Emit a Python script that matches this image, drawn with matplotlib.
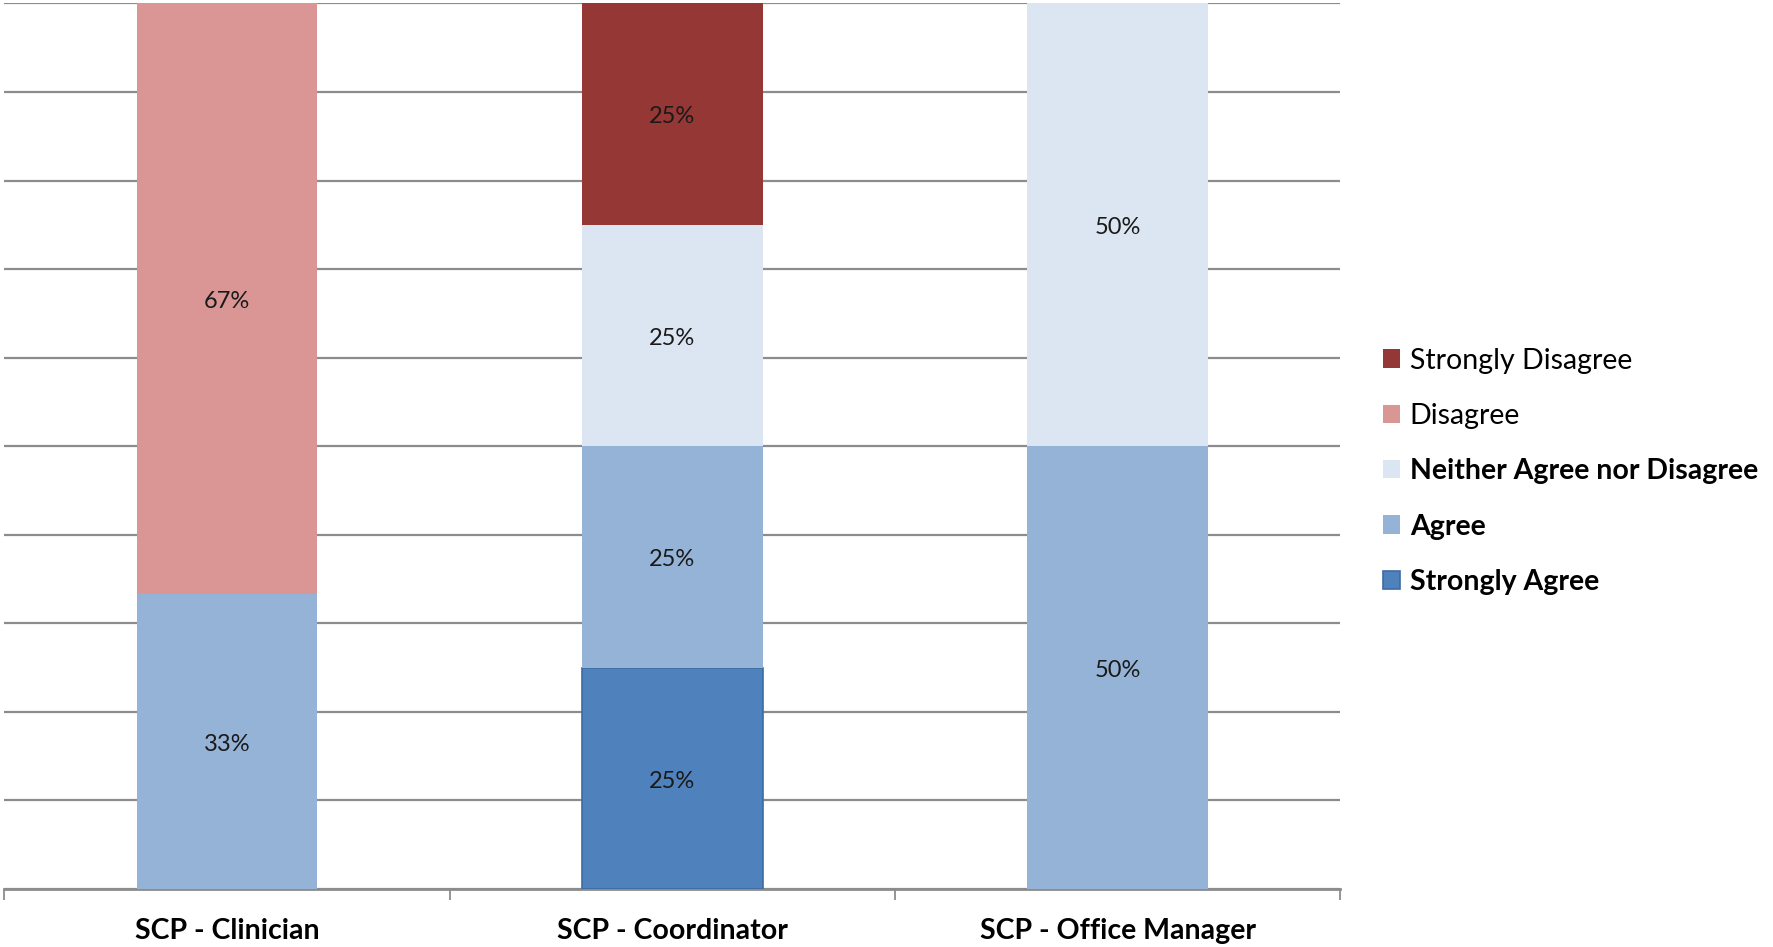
import matplotlib
matplotlib.use("Agg")
import matplotlib.pyplot as plt
import numpy as np

categories = ["SCP - Clinician", "SCP - Coordinator", "SCP - Office Manager"]
series_names = ["Strongly Agree", "Agree", "Neither Agree nor Disagree", "Disagree", "Strongly Disagree"]
strongly_agree = [0, 25, 0]
agree = [33.3, 25, 50]
neither = [0, 25, 50]
disagree = [66.7, 0, 0]
strongly_disagree = [0, 25, 0]
series_values = [strongly_agree, agree, neither, disagree, strongly_disagree]
colors = ["#4F81BD", "#95B3D7", "#DCE6F2", "#D99694", "#953735"]
edges = ["#3D6CA3", "#95B3D7", "#DCE6F2", "#D99694", "#953735"]

plt.rcParams['font.family'] = ['Lato', 'DejaVu Sans']

fig = plt.figure(figsize=(17.74, 9.47), dpi=100)
ax = fig.add_axes([0.0025, 0.0612, 0.7530, 0.9352])

x = np.arange(len(categories))
bottom = np.zeros(len(categories))
handles = []
for name, vals, c, ec in zip(series_names, series_values, colors, edges):
    vals = np.array(vals, dtype=float)
    h = ax.bar(x, vals, width=0.405, bottom=bottom, color=c, edgecolor=ec,
               linewidth=1.2 if name == "Strongly Agree" else 0, label=name, zorder=3)
    handles.append(h)
    for xi, v, b in zip(x, vals, bottom):
        if v > 0:
            ax.annotate(f"{v:.0f}%", (xi, b + v / 2), xytext=(0, -2),
                        textcoords="offset points", ha="center", va="center",
                        fontsize=17, color="#1a1a1a", zorder=4)
    bottom += vals

ax.set_xlim(-0.5, 2.5)
ax.set_ylim(0, 100)
ax.set_yticks(np.arange(0, 101, 10))
ax.yaxis.grid(True, color="#8C8C8C", linewidth=1.6, zorder=0)
ax.tick_params(axis="y", left=False, labelleft=False)
for s in ["left", "right", "top"]:
    ax.spines[s].set_visible(False)
ax.spines["bottom"].set_color("#8C8C8C")
ax.spines["bottom"].set_linewidth(2)
ax.set_xticks([-0.5, 0.5, 1.5, 2.5], minor=False)
ax.set_xticklabels([])
ax.tick_params(axis="x", which="major", length=8, width=1.3, color="#8C8C8C")
ax.set_xticks(x, minor=True)
ax.set_xticklabels(categories, minor=True, fontsize=20.5, fontweight="bold")
ax.tick_params(axis="x", which="minor", length=0, pad=21)

leg = fig.legend(handles[::-1], series_names[::-1], loc="upper left",
                 bbox_to_anchor=(0.773, 0.645), frameon=False, fontsize=20.5,
                 handlelength=0.62, handleheight=0.62, handletextpad=0.33,
                 labelspacing=1.03, borderaxespad=0)
for t in leg.get_texts():
    if t.get_text() in ("Neither Agree nor Disagree", "Agree", "Strongly Agree"):
        t.set_fontweight("bold")

fig.savefig("out.png", dpi=100)
